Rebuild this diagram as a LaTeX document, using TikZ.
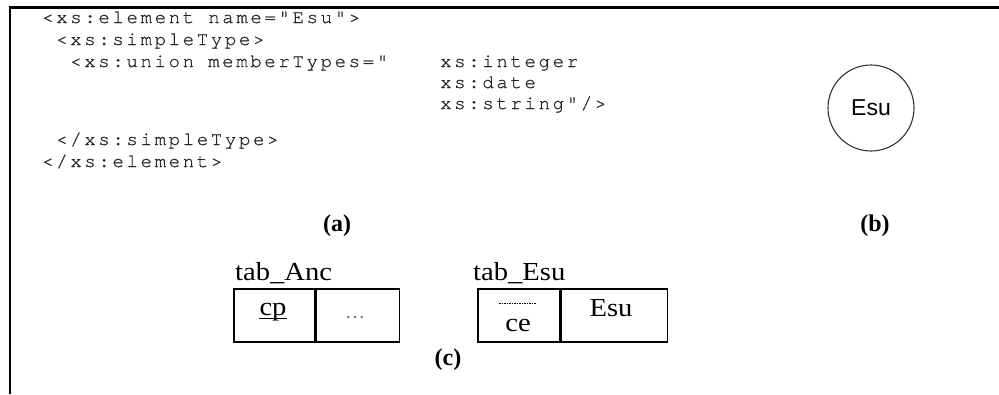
\documentclass[tikz,border=0pt]{standalone}
\usepackage{fontspec}
\setmainfont{Liberation Serif}
\newfontfamily\sansf{Liberation Sans}
\newfontfamily\tabf{Liberation Serif}[FakeStretch=1.1]
\newfontfamily\codef{texgyrecursor-regular}[Extension=.otf,LetterSpace=14,FakeBold=0.8]
\begin{document}
\begin{tikzpicture}[x=1pt,y=-1pt,
  code/.style={anchor=base west,inner sep=0pt,text=black!85,
    font=\codef\fontsize{19}{19}\selectfont},
  caption/.style={inner sep=0pt,font=\bfseries\fontsize{24}{24}\selectfont},
  tname/.style={anchor=base west,inner sep=0pt,font=\tabf\fontsize{26}{26}\selectfont},
  ctext/.style={anchor=base,inner sep=0pt,font=\tabf\fontsize{26}{26}\selectfont},
  cell/.style={draw,line width=1.6pt,anchor=north west,inner sep=0pt,
    minimum height=53pt},
  frame/.style={line width=2.2pt}]
\useasboundingbox (0,0) rectangle (999,394);

% outer frame (top and left edges only)
\coordinate (ftr) at (999,7.5);
\coordinate (fc) at (10,7.5);
\coordinate (fbl) at (10,394);
\draw[frame] (ftr) -- (fc) -- (fbl);

% (a) XML schema fragment
\node[code] (l1) at (42,23)  {<xs:element name="Esu">};
\node[code] (l2) at (56,45)  {<xs:simpleType>};
\node[code] (l3) at (70,67)  {<xs:union memberTypes="};
\node[code] (m1) at (440,67) {xs:integer};
\node[code] (m2) at (440,88) {xs:date};
\node[code] (m3) at (440,109){xs:string"/>};
\node[code] (l6) at (56,145) {</xs:simpleType>};
\node[code] (l7) at (42,167) {</xs:element>};
\node[caption] (capa) at (337,226) {(a)};

% (b) element as a circle
\node[draw=black!80,line width=1.1pt,circle,minimum size=86pt,inner sep=0pt,
  font=\sansf\fontsize{23}{23}\selectfont] (esu) at (871,108) {Esu};
\node[caption] (capb) at (875,226) {(b)};

% (c) relational tables
\node[tname] (tanc) at (235,280) {tab\_Anc};
\node[cell,minimum width=81pt] (anc1) at (233,288) {};
\node[cell,minimum width=83pt] (anc2) at (anc1.north east) {};
\node[ctext] (cp) at (273,315) {cp};
\draw[line width=1.3pt] ([yshift=-3.5pt]cp.base west) -- ([yshift=-3.5pt]cp.base east);
\node[ctext,text=black!55,font=\fontsize{20}{20}\selectfont] (dots) at (355,318) {\dots};

\node[tname] (tesu) at (473,280) {tab\_Esu};
\node[cell,minimum width=82pt] (esu1) at (477,288) {};
\node[cell,minimum width=106pt] (esu2) at (esu1.north east) {};
\node[ctext] (ce) at (518,331) {ce};
\coordinate (ovl) at (499,303);
\coordinate (ovr) at (536,303);
\draw[line width=0.9pt,dash pattern=on 1.5pt off 1pt] (ovl) -- (ovr);
\node[ctext] (esut) at (611,316) {Esu};

\node[caption] (capc) at (448,360) {(c)};
\end{tikzpicture}
\end{document}
